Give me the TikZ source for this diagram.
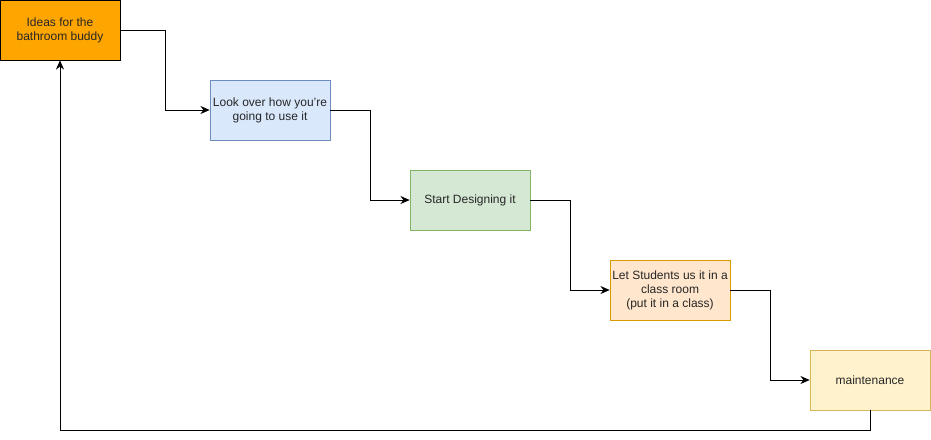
\documentclass[tikz,border=0pt]{standalone}
\usepackage{fontspec}
\setmainfont{Liberation Sans}
\usetikzlibrary{arrows.meta, positioning}
\definecolor{cIdeaFill}{HTML}{FFA500}
\definecolor{cBlueFill}{HTML}{DAE8FC}
\definecolor{cBlueLine}{HTML}{6C8EBF}
\definecolor{cGreenFill}{HTML}{D5E8D4}
\definecolor{cGreenLine}{HTML}{82B366}
\definecolor{cPeachFill}{HTML}{FFE6CC}
\definecolor{cPeachLine}{HTML}{D79B00}
\definecolor{cYellowFill}{HTML}{FFF2CC}
\definecolor{cYellowLine}{HTML}{D6B656}
\tikzset{
  stageblock/.style={rectangle, draw, minimum width=90pt, minimum height=45pt,
                     inner sep=1pt, align=center, font=\fontsize{9pt}{10.5pt}\selectfont,
                     text=black!85},
  stageidea/.style={stageblock, fill=cIdeaFill, draw=black},
  stageplan/.style={stageblock, fill=cBlueFill, draw=cBlueLine},
  stagedesign/.style={stageblock, fill=cGreenFill, draw=cGreenLine},
  stageuse/.style={stageblock, fill=cPeachFill, draw=cPeachLine},
  stagekeep/.style={stageblock, fill=cYellowFill, draw=cYellowLine},
  stagearrow/.style={-{Stealth[length=7pt, width=6pt]}, line width=0.75pt, black},
}
\begin{document}
\begin{tikzpicture}[x=0.75pt, y=-0.75pt]
  \useasboundingbox (0,0) rectangle (931,439);
  % Stages
  \node[stageidea] (idea) at (60,30) {Ideas for the\\bathroom buddy};
  \node[stageplan] (plan) at (270,110) {Look over how you're\\going to use it};
  \node[stagedesign] (design) at (470,200) {Start Designing it};
  \node[stageuse] (use) at (670,290) {Let Students us it in a\\class room\\(put it in a class)};
  \node[stagekeep] (keep) at (870,380) {maintenance};
  % Steps
  \draw[stagearrow] (idea.east) -- ++(45,0) |- (plan.west);
  \draw[stagearrow] (plan.east) -- ++(40,0) |- (design.west);
  \draw[stagearrow] (design.east) -- ++(40,0) |- (use.west);
  \draw[stagearrow] (use.east) -- ++(40,0) |- (keep.west);
  % Loop back
  \coordinate (loop) at (870,430);
  \draw[stagearrow] (keep.south) -- (loop) -| (idea.south);
\end{tikzpicture}
\end{document}
